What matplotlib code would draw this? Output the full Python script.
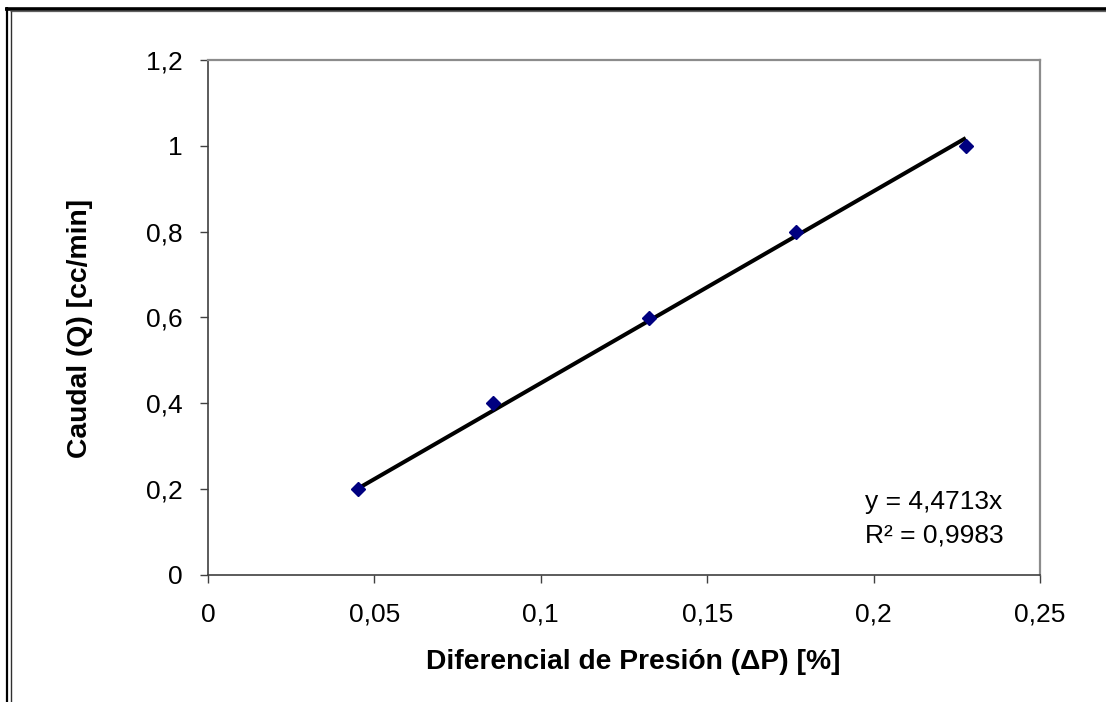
import matplotlib
matplotlib.use("Agg")
import matplotlib.pyplot as plt
from matplotlib.lines import Line2D
from matplotlib.ticker import FuncFormatter, MultipleLocator
import numpy as np

# Measured pressure differential vs. flow rate
delta_p = [0.0452, 0.0857, 0.1326, 0.1767, 0.2277]
caudal = [0.2, 0.4, 0.6, 0.8, 1.0]

# Linear trend through the origin (Excel-style) and its fit quality
slope = 4.4713
r_squared = 0.9983

W, H = 1106, 702
fig = plt.figure(figsize=(W / 100, H / 100), dpi=100)
plt.rcParams["font.family"] = ["Liberation Sans", "DejaVu Sans"]


def px(x, y):
    return x / W, 1 - y / H


# Plot area in pixel units
left, right, top, bottom = 208, 1040, 60, 575
l, b = px(left, bottom)
r, t = px(right, top)
ax = fig.add_axes([l, b, r - l, t - b])

ax.set_xlim(0, 0.25)
ax.set_ylim(0, 1.2)
ax.xaxis.set_major_locator(MultipleLocator(0.05))
ax.yaxis.set_major_locator(MultipleLocator(0.2))


def comma_fmt(v, _pos):
    return f"{round(v, 4):g}".replace(".", ",")


ax.xaxis.set_major_formatter(FuncFormatter(comma_fmt))
ax.yaxis.set_major_formatter(FuncFormatter(comma_fmt))

ax.tick_params(axis="both", direction="out", length=6, width=1.0,
               color="#404040", labelsize=19, labelcolor="black")
ax.tick_params(axis="y", pad=12)
ax.tick_params(axis="x", pad=14)

for side in ("left", "bottom"):
    ax.spines[side].set_color("#404040")
    ax.spines[side].set_linewidth(1.2)
for side in ("top", "right"):
    ax.spines[side].set_color("#8c8c8c")
    ax.spines[side].set_linewidth(1.6)

# Trend line over the measured range
xs = np.array([min(delta_p), max(delta_p)])
ax.plot(xs, slope * xs, color="black", linewidth=2.9, solid_capstyle="butt", zorder=2)

# Data points
ax.plot(delta_p, caudal, linestyle="none", marker="D", markersize=7.5,
        color="#000080", markeredgecolor="#000080", zorder=3)

ax.text(0.79, 0.128, f"y = {slope:.4f}x".replace(".", ","),
        transform=ax.transAxes, fontsize=19, va="baseline", ha="left")
ax.text(0.79, 0.064, f"R² = {r_squared:.4f}".replace(".", ","),
        transform=ax.transAxes, fontsize=19, va="baseline", ha="left")

ax.set_xlabel("Diferencial de Presión (ΔP) [%]", fontsize=20.3, fontweight="bold")
ax.set_ylabel("Caudal (Q) [cc/min]", fontsize=20.3, fontweight="bold")
ax.xaxis.set_label_coords((633 - left) / (right - left), (bottom - 662) / (bottom - top))
ax.xaxis.label.set_va("center")
ax.yaxis.set_label_coords((80 - left) / (right - left), (bottom - 328) / (bottom - top))
ax.yaxis.label.set_va("center")

# Outer frame: heavy top rule and a double rule on the left
def frame_line(x0, y0, x1, y1, lw, color):
    a = px(x0, y0)
    b2 = px(x1, y1)
    fig.add_artist(Line2D([a[0], b2[0]], [a[1], b2[1]], transform=fig.transFigure,
                          linewidth=lw, color=color, solid_capstyle="butt"))


frame_line(5, 8.5, W, 8.5, 2.6, "black")
frame_line(10, 11, W, 11, 0.9, "#606060")
frame_line(7, 7, 7, H, 1.6, "black")
frame_line(10.5, 11, 10.5, H, 1.0, "#303030")

fig.savefig("out.png", dpi=100)
